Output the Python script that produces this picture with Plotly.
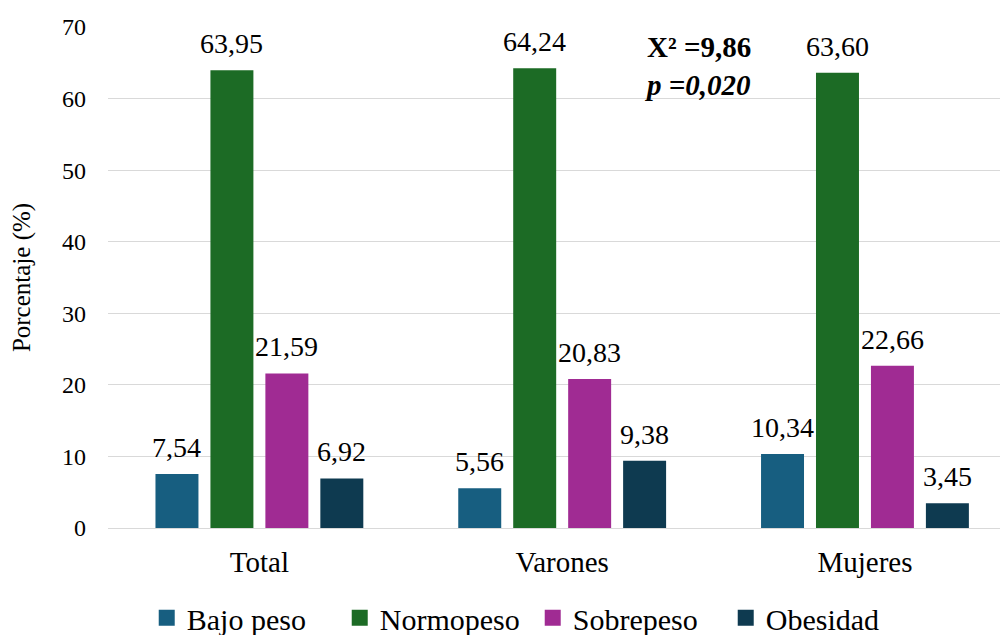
import plotly.graph_objects as go

categories = ["Total", "Varones", "Mujeres"]
series_names = ["Bajo peso", "Normopeso", "Sobrepeso", "Obesidad"]
bajo_peso = [7.54, 5.56, 10.34]
normopeso = [63.95, 64.24, 63.60]
sobrepeso = [21.59, 20.83, 22.66]
obesidad = [6.92, 9.38, 3.45]
y_ticks = [0, 10, 20, 30, 40, 50, 60, 70]

colors = ["#175E80", "#1C6B25", "#A02B93", "#0E3A50"]
values = [bajo_peso, normopeso, sobrepeso, obesidad]

FONT = "Liberation Serif"
BARGAP = 0.274
BARGROUPGAP = 0.218

fig = go.Figure()
n_series = len(series_names)
slot = (1 - BARGAP) / n_series
for s, (name, vals, col) in enumerate(zip(series_names, values, colors)):
    fig.add_trace(go.Bar(
        x=categories, y=vals, name=name, showlegend=False, legendgroup=name,
        marker=dict(color=col, line=dict(width=0)),
        cliponaxis=False,
    ))
    # data labels placed at each bar's value
    off = (s - (n_series - 1) / 2) * slot
    for i, v in enumerate(vals):
        fig.add_annotation(
            x=i + off, y=v, xref="x", yref="y",
            text=f"{v:.2f}".replace(".", ","),
            showarrow=False, xanchor="center", yanchor="bottom", yshift=9,
            font=dict(family=FONT, size=28, color="#000000"),
        )
for name, col in zip(series_names, colors):
    fig.add_trace(go.Scatter(
        x=[None], y=[None], mode="markers", name=name, legendgroup=name,
        marker=dict(symbol="square", size=16, color=col),
    ))

fig.add_annotation(
    x=0.661, y=0.923, xref="paper", yref="paper",
    text="<b>X² =9,86</b><br><b><i>p =0,020</i></b>",
    showarrow=False, align="left", xanchor="center", yanchor="middle",
    font=dict(family=FONT, size=29, color="#000000"),
)

fig.update_layout(
    width=1005, height=635,
    margin=dict(l=108, r=5, t=27, b=107, autoexpand=False),
    paper_bgcolor="white", plot_bgcolor="white",
    barmode="group", bargap=BARGAP, bargroupgap=BARGROUPGAP,
    font=dict(family=FONT, color="#000000"),
    showlegend=True,
    legend=dict(orientation="h", x=0.146, xanchor="left", xref="container",
                y=0.027, yanchor="middle", yref="container",
                entrywidth=148, entrywidthmode="pixels",
                font=dict(family=FONT, size=30, color="#000000"),
                itemwidth=30, traceorder="normal"),
    xaxis=dict(range=[-0.5, 2.446], showline=False, ticks="",
               ticklabelstandoff=14,
               tickfont=dict(family=FONT, size=29, color="#000000"), showgrid=False),
    yaxis=dict(range=[0, 70], tickvals=y_ticks, showgrid=True, gridcolor="#D9D9D9",
               gridwidth=1, zeroline=True, zerolinecolor="#D9D9D9", zerolinewidth=1,
               ticks="", ticklabelstandoff=21,
               tickfont=dict(family=FONT, size=24, color="#000000"),
               title=dict(text="Porcentaje (%)", font=dict(family=FONT, size=25, color="#000000"),
                          standoff=24)),
)

fig.write_html("out.html")
